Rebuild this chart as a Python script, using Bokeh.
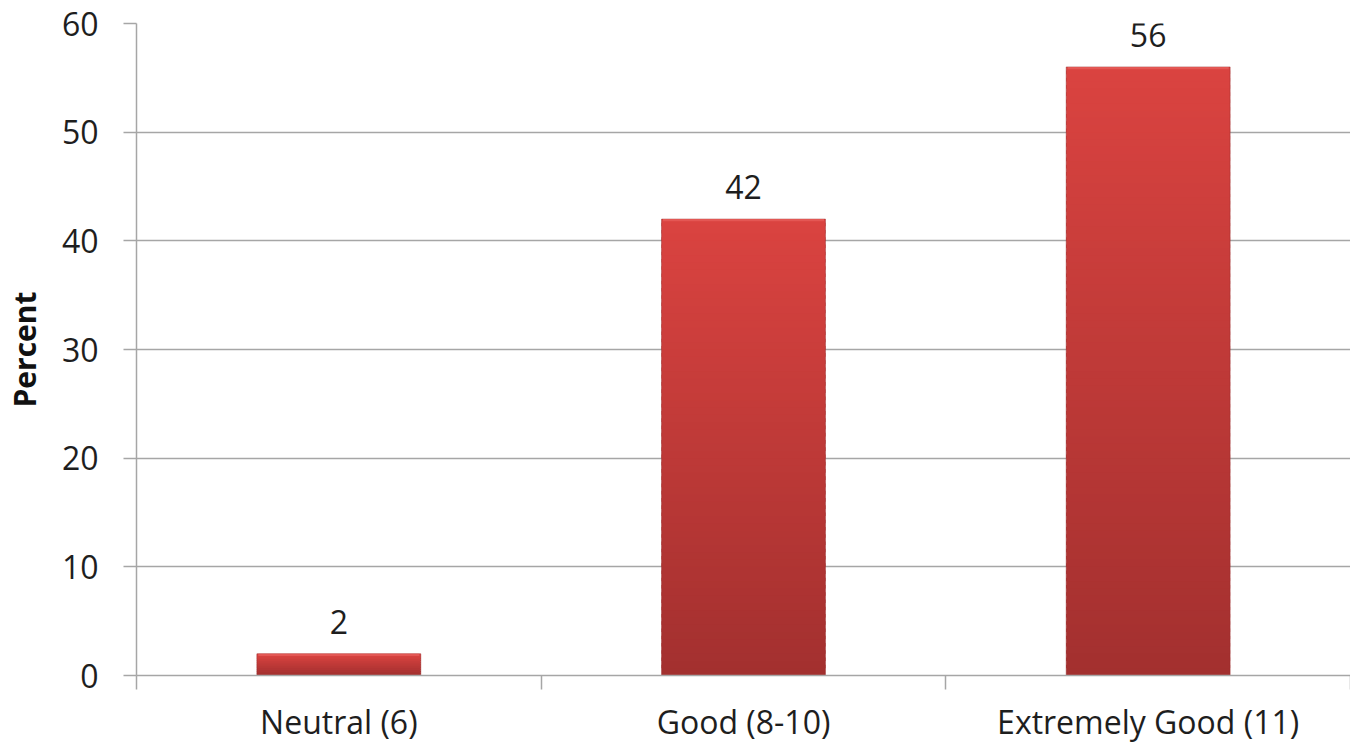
from bokeh.plotting import figure
from bokeh.models import ColumnDataSource, FixedTicker
from bokeh.core.properties import value
from bokeh.embed import file_html
from bokeh.resources import INLINE

categories = ["Neutral (6)", "Good (8-10)", "Extremely Good (11)"]
percents = [2, 42, 56]
y_ticks = [0, 10, 20, 30, 40, 50, 60]

FONT = "Open Sans"
TOP = (218, 67, 64)
BOT = (163, 48, 47)
SLICES_PER_UNIT = 1.5

xs = [i + 0.5 for i in range(len(categories))]
bounds = [float(i) for i in range(len(categories) + 1)]

p = figure(width=1350, height=745, output_backend="svg", toolbar_location=None,
           x_range=(0, len(categories)), y_range=(0, 60),
           min_border_left=133, min_border_right=0, min_border_top=23, min_border_bottom=69)
p.outline_line_color = None
p.background_fill_color = "white"
p.border_fill_color = "white"

# gradient bars (stacked slices of each bar, derived from its value)
sx, sb, st, sc = [], [], [], []
for x, v in zip(xs, percents):
    n = max(12, int(round(v * SLICES_PER_UNIT)))
    for k in range(n):
        f = k / (n - 1)
        c = tuple(int(round(BOT[j] + (TOP[j] - BOT[j]) * f)) for j in range(3))
        sx.append(x)
        sb.append(v * k / n)
        st.append(v * min(k + 1.5, n) / n)
        sc.append("#%02x%02x%02x" % c)
p.vbar(x=sx, bottom=sb, top=st, width=0.405, fill_color=sc, line_color=None)
# bar edge
p.vbar(x=xs, top=percents, width=0.405, fill_color=None, line_color="#9a2c2b",
       line_width=1, line_alpha=0.5)
# top bevel highlight
p.vbar(x=xs, bottom=[v - 0.2 for v in percents], top=percents, width=0.398,
       fill_color="#e45a56", line_color=None, fill_alpha=0.9)

src = ColumnDataSource(dict(x=xs, y=percents, t=[str(v) for v in percents]))
p.text(x="x", y="y", text="t", source=src, text_align="center", text_baseline="middle",
       y_offset=-32, text_font=value(FONT), text_font_size="32px", text_color="#1e1e1e")

# y axis
p.yaxis.ticker = FixedTicker(ticks=y_ticks)
p.yaxis.axis_label = "Percent"
p.yaxis.axis_label_text_font = FONT
p.yaxis.axis_label_text_font_style = "bold"
p.yaxis.axis_label_text_font_size = "30px"
p.yaxis.axis_label_text_color = "#111111"
p.yaxis.axis_label_standoff = 14
p.yaxis.major_label_text_font = FONT
p.yaxis.major_label_text_font_size = "32px"
p.yaxis.major_label_text_color = "#1e1e1e"
p.yaxis.major_label_standoff = 25
p.yaxis.major_tick_out = 13
p.yaxis.major_tick_in = 0
p.yaxis.major_tick_line_color = "#a6a6a6"
p.yaxis.major_tick_line_width = 1.5
p.yaxis.minor_tick_line_color = None
p.yaxis.axis_line_color = "#a6a6a6"
p.yaxis.axis_line_width = 1.5

# x axis: labels at category centres, ticks at category boundaries
p.xaxis.ticker = FixedTicker(ticks=xs, minor_ticks=bounds)
p.xaxis.major_label_overrides = {x: c for x, c in zip(xs, categories)}
p.xaxis.major_tick_line_color = None
p.xaxis.major_tick_out = 0
p.xaxis.major_tick_in = 0
p.xaxis.minor_tick_out = 14
p.xaxis.minor_tick_in = 0
p.xaxis.minor_tick_line_color = "#a6a6a6"
p.xaxis.minor_tick_line_width = 1.5
p.xaxis.axis_line_color = "#a6a6a6"
p.xaxis.axis_line_width = 1.5
p.xaxis.major_label_text_font = FONT
p.xaxis.major_label_text_font_size = "32px"
p.xaxis.major_label_text_color = "#1e1e1e"
p.xaxis.major_label_standoff = 10

p.xgrid.grid_line_color = None
p.ygrid.ticker = FixedTicker(ticks=y_ticks)
p.ygrid.grid_line_color = "#a6a6a6"
p.ygrid.grid_line_width = 1.5

open("out.html", "w").write(file_html(p, INLINE))
